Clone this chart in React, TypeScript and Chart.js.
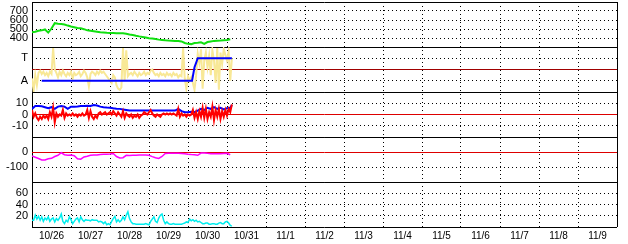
import { useEffect, useRef } from 'react';
import { Chart, registerables } from 'chart.js';

Chart.register(...registerables);

// ---- categories / tick labels ----
const dayLabels = ['10/26', '10/27', '10/28', '10/29', '10/30', '10/31', '11/1', '11/2', '11/3', '11/4', '11/5', '11/6', '11/7', '11/8', '11/9'];
const taLabels: Record<number, string> = { 1: 'A', 3: 'T' };

// ---- sample times (hours since 10/26 00:00) ----
const hours1 = Array.from({ length: 124 }, (_, i) => i); // hourly samples
const hours2 = Array.from({ length: 62 }, (_, i) => i * 2); // 2-hourly samples

// ---- panel 1 (green) ----
const greenValues = [463, 470, 480, 485, 495, 460, 505, 565, 558, 555, 550, 538, 528, 520, 512, 508, 498, 485, 480, 475, 470, 465, 462, 458, 455, 455, 453, 452, 452, 448, 440, 433, 425, 418, 412, 405, 398, 394, 388, 382, 378, 374, 371, 370, 368, 366, 362, 345, 335, 332, 345, 348, 352, 335, 355, 362, 368, 370, 372, 375, 378, 385];

// ---- panel 2 (yellow noisy + blue step) ----
const yellowValues = [1.2, 0.1, 1.5, 0.6, 1.7, 1.9, 1.6, 1.8, 1.5, 1.7,
  1.4, 1.8, 1.6, 3.9, 2.0, 1.7, 1.3, 1.8, 1.5, 1.9,
  1.6, 1.4, 1.7, 1.5, 1.8, 1.2, 1.7, 1.5, 1.6, 1.8,
  1.4, 1.6, 1.9, 1.7, 1.3, 0.5, 1.6, 1.8, 1.7, 1.5,
  1.8, 1.6, 1.9, 1.7, 1.8, 1.6, 1.4, 1.2, 1.0, 0.8,
  1.5, 1.3, 0.6, 0.3, 0.2, 0.4, 3.9, 1.0, 3.7, 1.4,
  1.6, 1.7, 1.5, 1.8, 1.6, 1.4, 1.7, 1.5, 1.6, 1.8,
  1.5, 1.7, 1.6, 1.9, 2.0, 1.7, 1.5, 1.6, 1.4, 1.7,
  1.5, 1.6, 1.4, 1.7, 1.5, 1.6, 1.4, 1.7, 1.5, 1.6,
  1.3, 1.5, 1.4, 3.9, 1.2, 0.3, 1.4, 1.0, 1.3, 0.8,
  0.2, 1.5, 3.4, 2.6, 3.8, 0.3, 2.8, 3.5, 2.2, 3.2,
  1.5, 3.7, 2.8, 0.8, 3.9, 0.2, 3.5, 2.5, 3.8, 3.3,
  2.8, 3.6, 1.0, 3.0];
const stepHours = [6, 98.5, 100, 101.5, 102, 123];
const stepValues = [1, 1, 2.2, 2.8, 3, 3];

// ---- panel 3 (red noisy + blue) ----
const redValues = [4, -2, 1, -3, -5, -2, -4, -1, -3, -1,
  -4, 2, -2, 6, -7, 1, -2, 0, -1, 4,
  -3, 1, -1, 0, -1, 1, -1, 0, -2, 0,
  -1, 1, -1, 0, 4, -3, 3, -2, -4, -1,
  -3, 1, 2, 0, 1, 2, 0, 1, 2, 0,
  3, 1, -1, 2, 0, -2, 3, -3, 1, -1,
  -2, 0, -3, -1, -2, 0, -3, -1, 0, 2,
  1, 0, 2, 4, 1, -1, -2, 0, -1, -2,
  0, 1, 0, 1, 0, 1, 0, 1, 0, -1,
  5, -2, 1, -1, 0, -2, 0, -1, 0, 4,
  -3, 2, -4, 3, -2, 6, -3, 5, -4, 2,
  -2, 7, -5, 4, -2, 5, -4, 3, -2, 4,
  -1, 5, 2, 9];
const blue3Hours = [...hours2, 123];
const blue3Values = [5, 7.5, 7.5, 7.3, 6.5, 5.5, 6.5, 5, 7, 7.5, 7, 5, 7, 7, 7.2, 7.5, 7.5, 7.8, 7.5, 8.5, 8, 7, 6.5, 6.2, 6, 5.5, 5.2, 5, 4.5, 4, 3.5, 3.5, 3.5, 3.5, 3.5, 3.5, 3.5, 3.5, 3.5, 3.5, 3.5, 3.5, 3.5, 3.5, 3.5, 5, 3, 2, 2, 2.5, 2, 3.5, 5, 4, 6, 5, 6.5, 5, 6, 4.5, 5.5, 6, 8.5];

// ---- panel 4 (magenta) ----
const magentaValues = [-27, -35, -43, -53, -53, -45, -42, -30, -22, -5, -18, -22, -20, -25, -45, -48, -33, -28, -22, -20, -20, -16, -15, -15, -13, -10, -30, -40, -38, -22, -23, -22, -22, -20, -20, -20, -22, -31, -38, -43, -30, -10, -9, -9, -9, -8, -10, -12, -15, -17, -18, -22, -7, -6, -9, -11, -12, -11, -12, -10, -9, -18];

// ---- panel 5 (cyan) ----
const cyanValues = [12, 12, 21, 14, 19, 12, 18, 10, 16, 13,
  18, 10, 14, 16, 9, 15, 12, 16, 23, 10,
  6, 12, 9, 18, 13, 6, 10, 14, 16, 9,
  18, 13, 10, 13, 12, 12, 11, 13, 12, 12,
  12, 9, 10, 9, 6, 9, 4, 6, 4, 10,
  15, 19, 9, 13, 9, 12, 18, 13, 21, 27,
  15, 9, 6, 6, 5, 5, 5, 5, 5, 5,
  6, 5, 4, 10, 14, 18, 10, 8, 16, 21,
  23, 12, 6, 9, 6, 5, 5, 6, 5, 5,
  5, 5, 5, 6, 7, 9, 8, 14, 11, 13,
  10, 12, 9, 10, 8, 6, 6, 7, 7, 5,
  5, 6, 6, 5, 5, 7, 8, 6, 6, 9,
  10, 7, 3, 1.5];

// ---- panel axes ----
const p1Ticks = [300, 400, 500, 600, 700, 800];
const p1Labels: Record<number, string> = { 400: '400', 500: '500', 600: '600', 700: '700' };
const p2Ticks = [0, 1, 2, 3, 4];
const p3Ticks = [-20, -10, 0, 10, 20];
const p3Labels: Record<number, string> = { 10: '10', 0: '0', [-10]: '-10' };
const p4Ticks = [-200, -100, 0, 100];
const p4Labels: Record<number, string> = { 0: '0', [-100]: '-100' };
const p5Ticks = [0, 20, 40, 60, 80];
const p5Labels: Record<number, string> = { 20: '20', 40: '40', 60: '60' };

const FONT = "'Liberation Sans', Arial, sans-serif";

const pts = (hs: number[], vs: number[]) => vs.map((v, i) => ({ x: hs[i] / 24, y: v }));

function panelAxis(min: number, max: number, ticks: number[], labels: Record<number, string>, special: Record<number, string>, weight: number) {
  return {
    type: 'linear' as const,
    position: 'left' as const,
    stack: 'panels',
    stackWeight: 1,
    weight,
    min,
    max,
    afterBuildTicks: (s: any) => {
      s.ticks = ticks.map((v) => ({ value: v }));
    },
    afterFit: (s: any) => {
      s.width = 32;
      s.paddingTop = 0;
      s.paddingBottom = 0;
    },
    ticks: {
      autoSkip: false,
      padding: 4,
      color: '#000',
      font: { family: FONT, size: 11 },
      callback: (v: any) => labels[v as number] ?? '',
    },
    grid: {
      drawTicks: false,
      lineWidth: 1,
      color: (ctx: any) => {
        const v = ctx.tick?.value;
        if (v !== undefined && special[v]) return special[v];
        return '#000';
      },
    },
    border: {
      display: false,
      dash: (ctx: any) => {
        const v = ctx.tick?.value;
        if (v === min || v === max || (v !== undefined && special[v])) return [];
        return [1, 3];
      },
    },
  };
}

const xTicks: number[] = [];
dayLabels.forEach((_, i) => {
  xTicks.push(i, i + 0.5);
});
xTicks.push(dayLabels.length);

export default function App() {
  const ref = useRef<HTMLCanvasElement | null>(null);

  useEffect(() => {
    if (!ref.current) return;
    const common = { pointRadius: 0, tension: 0, fill: false, xAxisID: 'x' };
    const chart = new Chart(ref.current, {
      type: 'line',
      data: {
        datasets: [
          { ...common, data: pts(hours2, greenValues), borderColor: '#10e010', borderWidth: 2, yAxisID: 'y1' },
          { ...common, data: pts(stepHours, stepValues), borderColor: '#0000ff', borderWidth: 2, yAxisID: 'y2' },
          { ...common, data: pts(hours1, yellowValues), borderColor: 'rgb(248,232,150)', borderWidth: 2, yAxisID: 'y2' },
          { ...common, data: pts(hours1, redValues), borderColor: '#ff0000', borderWidth: 2, yAxisID: 'y3' },
          { ...common, data: pts(blue3Hours, blue3Values), borderColor: '#0000ff', borderWidth: 2, yAxisID: 'y3' },
          { ...common, data: pts(hours2, magentaValues), borderColor: '#ff00ff', borderWidth: 1.5, yAxisID: 'y4' },
          { ...common, data: pts(hours1, cyanValues), borderColor: '#00eeee', borderWidth: 1.5, yAxisID: 'y5' },
        ],
      },
      options: {
        responsive: false,
        animation: false,
        events: [],
        layout: { padding: { top: 2, right: 11, left: 0, bottom: 0 } },
        plugins: { legend: { display: false }, tooltip: { enabled: false } },
        scales: {
          x: {
            type: 'linear',
            position: 'bottom',
            min: 0,
            max: dayLabels.length,
            afterBuildTicks: (s: any) => {
              s.ticks = xTicks.map((v) => ({ value: v }));
            },
            afterFit: (s: any) => {
              s.height = 17;
              s.paddingLeft = 0;
              s.paddingRight = 0;
            },
            ticks: {
              autoSkip: false,
              maxRotation: 0,
              minRotation: 0,
              padding: 3,
              color: '#000',
              font: { family: FONT, size: 10 },
              callback: (v: any) => (Number.isInteger(v) ? '' : dayLabels[Math.floor(v)]),
            },
            grid: {
              drawTicks: false,
              lineWidth: 1,
              color: (ctx: any) => (Number.isInteger(ctx.tick?.value) ? '#000' : 'rgba(0,0,0,0)'),
            },
            border: {
              display: false,
              dash: (ctx: any) => {
                const v = ctx.tick?.value;
                return v === 0 || v === dayLabels.length ? [] : [1, 3];
              },
            },
          },
          y1: panelAxis(300, 800, p1Ticks, p1Labels, {}, 5),
          y2: panelAxis(0, 4, p2Ticks, taLabels, { 2: '#a00000' }, 4),
          y3: panelAxis(-20, 20, p3Ticks, p3Labels, { 0: '#dd0000' }, 3),
          y4: panelAxis(-200, 100, p4Ticks, p4Labels, { 0: '#dd0000' }, 2),
          y5: panelAxis(0, 80, p5Ticks, p5Labels, {}, 1),
        } as any,
      },
    });
    return () => chart.destroy();
  }, []);

  return (
    <div style={{ position: 'absolute', left: 0, top: 0, width: 628, height: 244, background: '#fff' }}>
      <canvas ref={ref} width={628} height={244} style={{ display: 'block' }} />
    </div>
  );
}
